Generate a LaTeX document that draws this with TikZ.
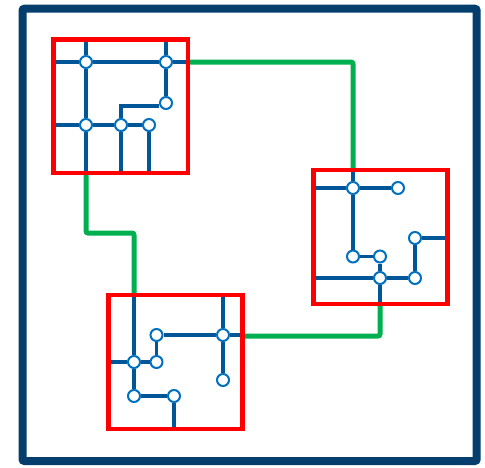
\documentclass[tikz,border=0pt]{standalone}
\usetikzlibrary{backgrounds}
\definecolor{navy}{RGB}{4,62,108}
\definecolor{pipeblue}{RGB}{0,86,150}
\definecolor{ringblue}{RGB}{0,112,192}
\definecolor{linkgreen}{RGB}{0,176,80}
\pgfdeclarelayer{front}
\pgfsetlayers{main,front}
\begin{document}
\begin{tikzpicture}[x=1pt, y=-1pt,
    stop/.style={circle, draw=ringblue, fill=white, line width=2pt, minimum size=12pt, inner sep=0pt},
    zone/.style={draw=red, line width=4.5pt, outer sep=0pt, inner sep=0pt},
    pipe/.style={pipeblue, line width=3.3pt},
    link/.style={linkgreen, line width=5pt, rounded corners=2pt}]
    \useasboundingbox (0,0) rectangle (485,467);
    \draw[navy, line width=8pt, rounded corners=2pt] (22.5,8.7) rectangle (476.7,461);

    % Define nodes for the first zone
    \node[stop] (t1) at (86,62) {};
    \node[stop] (t2) at (166,62) {};
    \node[stop] (t3) at (166,103) {};
    \node[stop] (t4) at (86,125) {};
    \node[stop] (t5) at (121,125) {};
    \node[stop] (t6) at (149,125) {};

    % Define nodes for the second zone
    \node[stop] (r1) at (353,188) {};
    \node[stop] (r2) at (398,188) {};
    \node[stop] (r3) at (415,238) {};
    \node[stop] (r4) at (353,256.5) {};
    \node[stop] (r5) at (380,256.5) {};
    \node[stop] (r6) at (380,278) {};
    \node[stop] (r7) at (415,278) {};

    % Define nodes for the third zone
    \node[stop] (l1) at (156.5,335) {};
    \node[stop] (l2) at (223,335) {};
    \node[stop] (l3) at (134,362) {};
    \node[stop] (l4) at (156.5,362) {};
    \node[stop] (l5) at (223,380) {};
    \node[stop] (l6) at (134,396) {};
    \node[stop] (l7) at (174,396) {};

    % Define the zones
    \begin{pgfonlayer}{front}
    \node[zone, minimum width=134.5pt, minimum height=133.5pt] (TL) at (120.75,106.25) {};
    \node[zone, minimum width=134pt, minimum height=134pt] (BR) at (380.5,237) {};
    \node[zone, minimum width=134pt, minimum height=134pt] (BL) at (175.5,362) {};
    \end{pgfonlayer}

    % Draw edges
    \draw[pipe] (t1 |- TL.north) -- (t1) -- (t4) -- (t4 |- TL.south);
    \draw[pipe] (TL.west |- t1) -- (t1) -- (t2) -- (TL.east |- t2);
    \draw[pipe] (t2 |- TL.north) -- (t2) -- (t3);
    \draw[pipe] ([yshift=-3pt]t3.west) -| (t5);
    \draw[pipe] (t5) -- (t5 |- TL.south);
    \draw[pipe] (TL.west |- t4) -- (t4) -- (t5) -- (t6);
    \draw[pipe] (t6) -- (t6 |- TL.south);

    \draw[pipe] (BR.west |- r1) -- (r1) -- (r2);
    \draw[pipe] (r1 |- BR.north) -- (r1) -- (r4) -- (r5);
    \draw[pipe] (r5) -- (r6) -- (r6 |- BR.south);
    \draw[pipe] (BR.west |- r6) -- (r6) -- (r7) -- (r3) -- (BR.east |- r3);

    \draw[pipe] (l3 |- BL.north) -- (l3) -- (l6) -- (l7) -- (l7 |- BL.south);
    \draw[pipe] (BL.west |- l3) -- (l3) -- (l4) -- (l1) -- (l2) -- (BL.east |- l2);
    \draw[pipe] (l2 |- BL.north) -- (l2) -- (l5);

    % Draw links between zones
    \coordinate (bend) at (86,233);
    \draw[link] (TL.east |- t1) -| (r1 |- BR.north);
    \draw[link] (t1 |- TL.south) -- (bend) -- (l3 |- bend) -- (l3 |- BL.north);
    \draw[link] ([yshift=-1pt]BL.east |- l2) -| (r5 |- BR.south);
\end{tikzpicture}
\end{document}
